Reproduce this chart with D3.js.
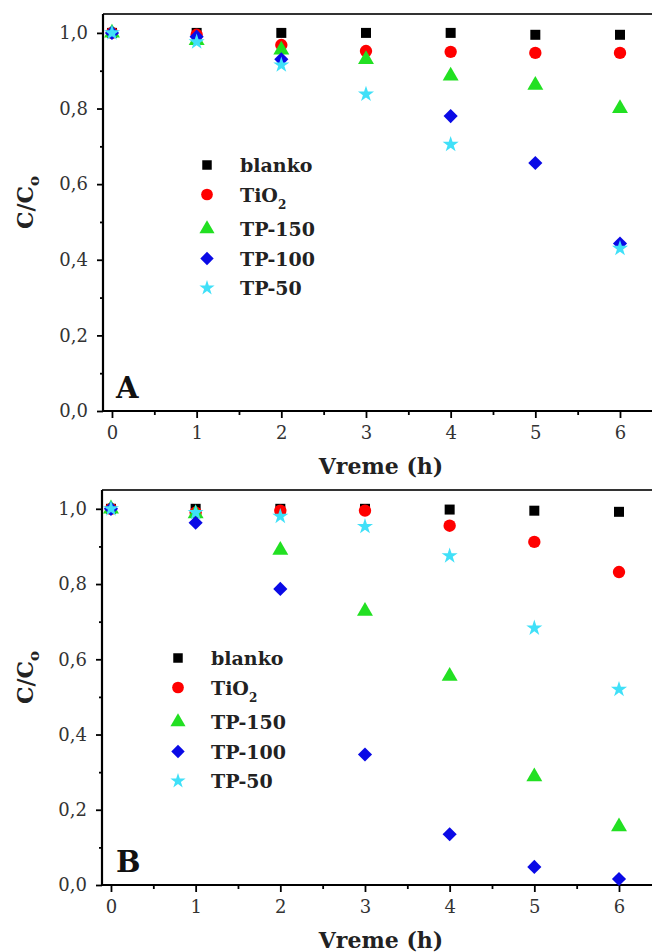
<!DOCTYPE html>
<html><head><meta charset="utf-8">
<script src="https://cdn.jsdelivr.net/npm/d3@7"></script>
<style>body{margin:0;background:#fff}svg{display:block}</style>
</head><body>
<svg id="c" width="652" height="952"></svg>
<script>
// ---- data ----
const times = [0, 1, 2, 3, 4, 5, 6];
const seriesNames = ["blanko", "TiO2", "TP-150", "TP-100", "TP-50"];
const xTicks = [0, 1, 2, 3, 4, 5, 6];
const yTicks = [0, 0.2, 0.4, 0.6, 0.8, 1.0];
const yTickLabels = ["0,0", "0,2", "0,4", "0,6", "0,8", "1,0"];
const panelLabels = ["A", "B"];

// panel A
const blankoA = [1.0, 1.0, 1.0, 1.0, 1.0, 0.995, 0.995];
const tio2A   = [1.0, 0.995, 0.968, 0.952, 0.95, 0.947, 0.947];
const tp150A  = [1.0, 0.98, 0.955, 0.93, 0.886, 0.862, 0.80];
const tp100A  = [1.0, 0.99, 0.93, null, 0.78, 0.656, 0.443];
const tp50A   = [1.0, 0.976, 0.915, 0.838, 0.705, null, 0.43];
// panel B
const blankoB = [1.0, 1.0, 1.0, 1.0, 0.998, 0.995, 0.992];
const tio2B   = [1.0, 0.99, 0.995, 0.995, 0.955, 0.912, 0.832];
const tp150B  = [1.0, 0.987, 0.89, 0.728, 0.555, 0.288, 0.155];
const tp100B  = [1.0, 0.963, 0.787, 0.347, 0.135, 0.048, 0.016];
const tp50B   = [1.0, 0.99, 0.98, 0.953, 0.875, 0.683, 0.52];

const panelsData = [
  [blankoA, tio2A, tp150A, tp100A, tp50A],
  [blankoB, tio2B, tp150B, tp100B, tp50B]
];

// ---- style ----
const colors = ["#000000", "#ff0000", "#22e022", "#0a0ae6", "#40e0f8"];
const symbols = [d3.symbolSquare, d3.symbolCircle, d3.symbolTriangle, d3.symbolSquare, d3.symbolStar];
const symRot = [0, 0, 0, 45, 0];
const symSizes = [100, 120, 110, 100, 80];
const FONT = "'DejaVu Serif', serif";

const svg = d3.select("#c");

const layouts = [
  {top: 14, bottom: 411, left: 103, legX: 207, legY: 165},
  {top: 490, bottom: 885, left: 102, legX: 178, legY: 658}
];

layouts.forEach((L, p) => {
  const x = d3.scaleLinear().domain([-0.106, 6.5]).range([L.left, L.left + 84.67 * 6.606]);
  const y = d3.scaleLinear().domain([0, 1.05]).range([L.bottom, L.top]);
  const g = svg.append("g");

  // top border
  g.append("line").attr("x1", L.left).attr("x2", 700).attr("y1", L.top).attr("y2", L.top)
    .attr("stroke", "#333").attr("stroke-width", 2);

  // x axis
  const xa = g.append("g").attr("transform", `translate(0,${L.bottom})`)
    .call(d3.axisBottom(x).tickValues(xTicks).tickFormat(d3.format("d")).tickSize(7).tickSizeOuter(0).tickPadding(8));
  xa.select(".domain").attr("stroke-width", 2.2).attr("d", `M${L.left},0H700`);
  xa.selectAll(".tick line").attr("stroke-width", 1.8);
  xa.selectAll("text").attr("font-family", FONT).attr("font-size", 18).attr("fill", "#333");
  const xMinor = d3.range(0.5, 6.6, 1);
  g.append("g").attr("transform", `translate(0,${L.bottom})`)
    .call(d3.axisBottom(x).tickValues(xMinor).tickSize(4).tickFormat(""))
    .call(s => s.select(".domain").remove())
    .selectAll("line").attr("stroke-width", 1.8);

  // y axis
  const ya = g.append("g").attr("transform", `translate(${L.left},0)`)
    .call(d3.axisLeft(y).tickValues(yTicks).tickFormat((d, i) => yTickLabels[i]).tickSize(6).tickSizeOuter(0).tickPadding(9));
  ya.select(".domain").attr("stroke-width", 2.2).attr("d", `M0,${L.bottom + 1}V${L.top}`);
  ya.selectAll(".tick line").attr("stroke-width", 1.8);
  ya.selectAll("text").attr("font-family", FONT).attr("font-size", 18).attr("fill", "#333");
  const yMinor = d3.range(0.1, 1.05, 0.2);
  g.append("g").attr("transform", `translate(${L.left},0)`)
    .call(d3.axisLeft(y).tickValues(yMinor).tickSize(3).tickFormat(""))
    .call(s => s.select(".domain").remove())
    .selectAll("line").attr("stroke-width", 1.8);

  // axis titles
  g.append("text").attr("x", 381).attr("y", L.bottom + 63).attr("text-anchor", "middle")
    .attr("font-family", FONT).attr("font-weight", "bold").attr("font-size", 22).attr("fill", "#222")
    .text("Vreme (h)");
  const yt = g.append("text").attr("transform", `translate(33,${(L.top + L.bottom) / 2 - 10}) rotate(-90)`)
    .attr("text-anchor", "middle").attr("font-family", FONT).attr("font-weight", "bold")
    .attr("font-size", 22).attr("fill", "#222");
  yt.append("tspan").text("C/C");
  yt.append("tspan").attr("font-size", 15).attr("dy", 6).text("o");

  // panel letter
  g.append("text").attr("x", 116).attr("y", L.bottom - 13).attr("font-family", FONT)
    .attr("font-weight", "bold").attr("font-size", 29).attr("fill", "#111").text(panelLabels[p]);

  // points
  panelsData[p].forEach((vals, s) => {
    const pts = times.map((t, i) => ({t, v: vals[i]})).filter(d => d.v !== null);
    g.selectAll(null).data(pts).enter().append("path")
      .attr("transform", d => `translate(${x(d.t)},${y(d.v)}) rotate(${symRot[s]})`)
      .attr("d", d3.symbol().type(symbols[s]).size(symSizes[s]))
      .attr("fill", colors[s]);
  });

  // legend
  seriesNames.forEach((name, s) => {
    const ly = L.legY + s * 29.5 + (s >= 2 ? 5 : 0);
    g.append("path").attr("transform", `translate(${L.legX},${ly}) rotate(${symRot[s]})`)
      .attr("d", d3.symbol().type(symbols[s]).size(symSizes[s] * 0.9)).attr("fill", colors[s]);
    const t = g.append("text").attr("x", L.legX + 33).attr("y", ly + 7)
      .attr("font-family", FONT).attr("font-weight", "bold").attr("font-size", 19).attr("fill", "#222");
    if (name === "TiO2") {
      t.append("tspan").text("TiO");
      t.append("tspan").attr("font-size", 12).attr("dy", 7).text("2");
    } else t.text(name);
  });
});
</script>
</body></html>
